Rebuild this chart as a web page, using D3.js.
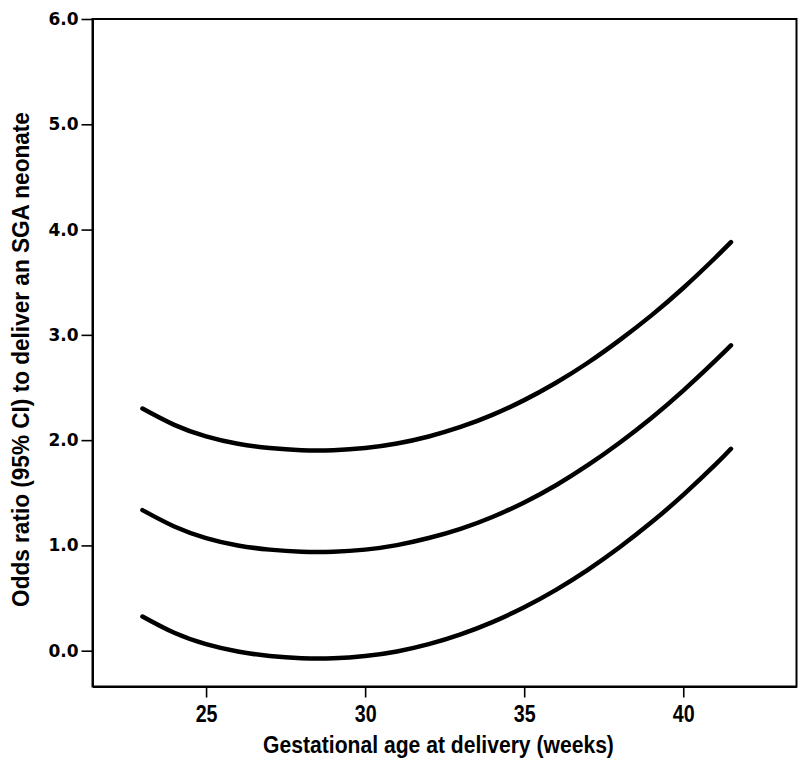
<!DOCTYPE html>
<html>
<head>
<meta charset="utf-8">
<script src="https://cdn.jsdelivr.net/npm/d3@7/dist/d3.min.js"></script>
<style>
  html, body { margin: 0; padding: 0; background: #fff; }
  svg { display: block; }
</style>
</head>
<body>
<svg id="chart" width="800" height="761"></svg>
<script>
// ---- data ----
const weeks     = [23, 24, 25, 26, 27, 28, 29, 30, 31, 32, 33, 34, 35, 36, 37, 38, 39, 40, 41, 41.5];
const upperCI   = [2.30, 2.145, 2.035, 1.965, 1.925, 1.905, 1.905, 1.925, 1.968, 2.035, 2.125, 2.24, 2.38, 2.545, 2.735, 2.95, 3.185, 3.445, 3.73, 3.88];
const oddsRatio = [1.335, 1.18, 1.07, 1.0, 0.96, 0.94, 0.94, 0.96, 1.003, 1.07, 1.157, 1.27, 1.408, 1.572, 1.762, 1.975, 2.21, 2.47, 2.752, 2.90];
const lowerCI   = [0.325, 0.17, 0.062, -0.008, -0.05, -0.071, -0.072, -0.051, -0.007, 0.062, 0.155, 0.272, 0.413, 0.578, 0.768, 0.982, 1.219, 1.48, 1.764, 1.918];
const xTicks = [25, 30, 35, 40];
const yTicks = [0, 1, 2, 3, 4, 5, 6];
const xTitle = "Gestational age at delivery (weeks)";
const yTitle = "Odds ratio (95% CI)  to deliver an SGA neonate";

// ---- layout ----
const plot = { left: 92.5, right: 796.5, top: 19, bottom: 686.5 };
const svg = d3.select("#chart");

const x = d3.scaleLinear().domain([21.43, 43.56]).range([plot.left, plot.right]);
const y = d3.scaleLinear().domain([-0.34, 6.0]).range([plot.bottom, plot.top]);

const sans = '"Liberation Sans", Arial, sans-serif';

// frame
svg.append("rect")
  .attr("x", plot.left).attr("y", plot.top)
  .attr("width", plot.right - plot.left).attr("height", plot.bottom - plot.top)
  .attr("fill", "none").attr("stroke", "#000").attr("stroke-width", 2);

// y axis
const yAxis = svg.append("g")
  .attr("transform", `translate(${plot.left},0)`)
  .call(d3.axisLeft(y).tickValues(yTicks).tickFormat(d3.format(".1f")).tickSize(11).tickSizeOuter(0).tickPadding(3));
yAxis.select(".domain").attr("stroke-width", 2);
yAxis.selectAll(".tick line").attr("stroke-width", 1.6);
yAxis.selectAll(".tick text")
  .attr("font-family", '"DejaVu Sans", Verdana, sans-serif')
  .attr("font-weight", "bold").attr("font-size", 17).attr("fill", "#000");

// x axis
const xAxis = svg.append("g")
  .attr("transform", `translate(0,${plot.bottom})`)
  .call(d3.axisBottom(x).tickValues(xTicks).tickFormat(d3.format("d")).tickSize(11).tickSizeOuter(0).tickPadding(7));
xAxis.select(".domain").attr("stroke-width", 2);
xAxis.selectAll(".tick line").attr("stroke-width", 1.6);
xAxis.selectAll(".tick text")
  .attr("font-family", sans)
  .attr("font-weight", "bold").attr("font-size", 24).attr("fill", "#000")
  .attr("transform", "scale(0.82,1)");

// titles (condensed look: horizontally scaled to the reference width)
function fitText(sel, target) {
  const len = sel.node().getComputedTextLength();
  return target / len;
}
const xt = svg.append("text")
  .attr("text-anchor", "middle")
  .attr("font-family", sans).attr("font-weight", "bold").attr("font-size", 24)
  .text(xTitle);
const sx = fitText(xt, 351);
xt.attr("transform", `translate(438.5,753) scale(${sx},1)`);

const yt = svg.append("text")
  .attr("text-anchor", "middle")
  .attr("font-family", sans).attr("font-weight", "bold").attr("font-size", 24)
  .text(yTitle);
const sy = fitText(yt, 495);
yt.attr("transform", `translate(29,359.5) rotate(-90) scale(${sy},1)`);

// curves
const series = [upperCI, oddsRatio, lowerCI];
const line = d3.line()
  .x((d, i) => x(weeks[i]))
  .y(d => y(d))
  .curve(d3.curveNatural);

svg.append("g").selectAll("path")
  .data(series)
  .join("path")
  .attr("d", line)
  .attr("fill", "none")
  .attr("stroke", "#000")
  .attr("stroke-width", 4.5)
  .attr("stroke-linecap", "round")
  .attr("stroke-linejoin", "round");
</script>
</body>
</html>
